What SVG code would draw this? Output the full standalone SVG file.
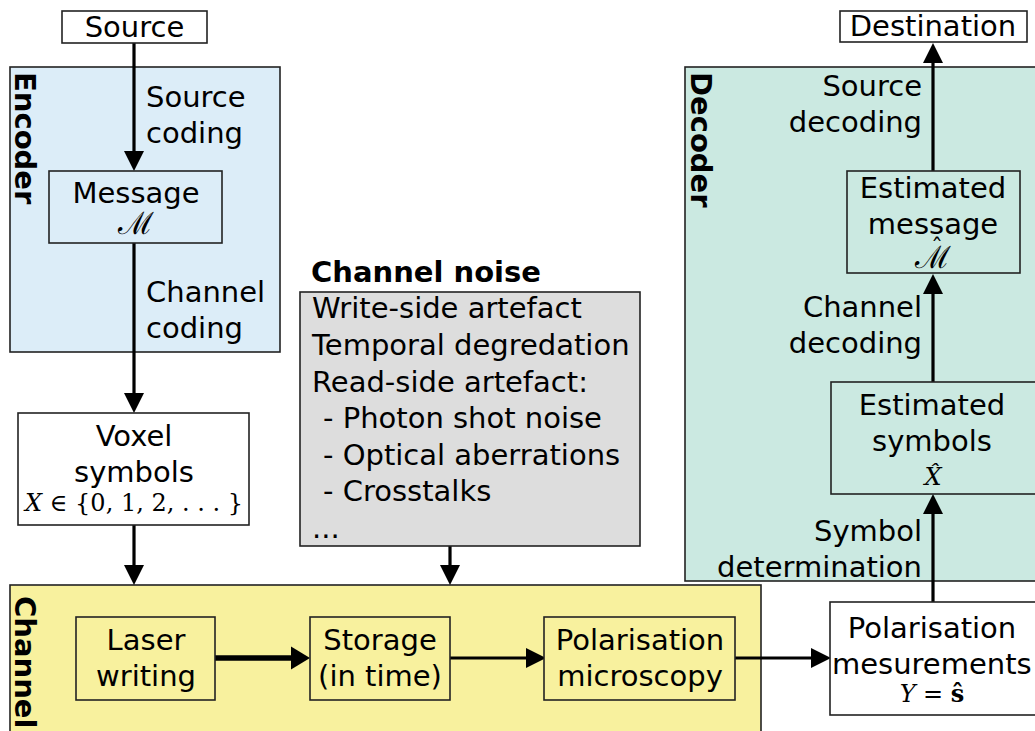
<svg xmlns="http://www.w3.org/2000/svg" width="1035" height="731" viewBox="0 0 1035 731">
  <defs>
    <marker id="head" viewBox="0 0 20 20" markerWidth="20" markerHeight="21" refX="0" refY="10" orient="auto" markerUnits="userSpaceOnUse">
      <path d="M0,0 L20,10 L0,20 z" fill="#000"/>
    </marker>
    <marker id="head-lg" viewBox="0 0 20 24" markerWidth="19" markerHeight="24" refX="0" refY="12" orient="auto" markerUnits="userSpaceOnUse">
      <path d="M0,0 L20,12 L0,24 z" fill="#000"/>
    </marker>
    <style>
      .box { stroke: #222; stroke-width: 1.6; }
      .white { fill: #ffffff; }
      .blue { fill: #dcedf8; }
      .mint { fill: #cbe9e1; }
      .yellow { fill: #f8f19e; }
      .grey { fill: #dddddd; }
      .t { font-family: "DejaVu Sans", Verdana, sans-serif; font-size: 29px; fill: #000; }
      .b { font-family: "DejaVu Sans", Verdana, sans-serif; font-size: 29px; font-weight: bold; fill: #000; }
      .m { font-family: "DejaVu Serif", "Liberation Serif", serif; font-size: 24px; }
      .cal { font-family: "DejaVu Serif", "Liberation Serif", serif; font-size: 31px; }
      .hat { font-family: "DejaVu Serif", "Liberation Serif", serif; font-size: 24px; }
      .mi { font-style: italic; }
      .c { text-anchor: middle; }
      .r { text-anchor: end; }
      .wire { stroke: #000; stroke-width: 3.2; fill: none; }
      .wire-thick { stroke: #000; stroke-width: 5.5; fill: none; }
    </style>
  </defs>

  <!-- Container regions -->
  <g id="encoder">
    <rect class="box blue" x="10" y="67" width="270" height="285"/>
    <text class="b" transform="translate(15,72) rotate(90)">Encoder</text>
  </g>
  <g id="decoder">
    <rect class="box mint" x="685" y="67" width="360" height="514"/>
    <text class="b" transform="translate(691,72) rotate(90)">Decoder</text>
  </g>
  <g id="channel">
    <rect class="box yellow" x="10" y="585" width="751" height="160"/>
    <text class="b" transform="translate(15,596) rotate(90)">Channel</text>
  </g>

  <!-- Connectors -->
  <g id="connectors">
    <line class="wire" x1="134" y1="43" x2="134" y2="151" marker-end="url(#head)"/>
    <line class="wire" x1="134" y1="243" x2="134" y2="393" marker-end="url(#head)"/>
    <line class="wire" x1="134" y1="525" x2="134" y2="565" marker-end="url(#head)"/>
    <line class="wire" x1="450" y1="546" x2="450" y2="565" marker-end="url(#head)"/>
    <line class="wire-thick" x1="215" y1="658" x2="291" y2="658" marker-end="url(#head-lg)"/>
    <line class="wire" x1="450" y1="658" x2="526" y2="658" marker-end="url(#head)"/>
    <line class="wire" x1="735" y1="658" x2="811" y2="658" marker-end="url(#head)"/>
    <line class="wire" x1="933" y1="602" x2="933" y2="514" marker-end="url(#head)"/>
    <line class="wire" x1="933" y1="382" x2="933" y2="294" marker-end="url(#head)"/>
    <line class="wire" x1="933" y1="171" x2="933" y2="63" marker-end="url(#head)"/>
  </g>

  <!-- Connector labels -->
  <g id="labels">
    <text class="t" x="146" y="107">Source</text>
    <text class="t" x="146" y="143">coding</text>
    <text class="t" x="146" y="302">Channel</text>
    <text class="t" x="146" y="338">coding</text>
    <text class="t r" x="922" y="96">Source</text>
    <text class="t r" x="922" y="132">decoding</text>
    <text class="t r" x="922" y="317">Channel</text>
    <text class="t r" x="922" y="353">decoding</text>
    <text class="t r" x="922" y="541">Symbol</text>
    <text class="t r" x="922" y="577">determination</text>
  </g>

  <g id="source">
    <rect class="box white" x="62" y="11" width="145" height="32"/>
    <text class="t c" x="134.5" y="37">Source</text>
  </g>

  <g id="message">
    <rect class="box blue" x="49" y="171" width="173" height="72"/>
    <text class="t c"><tspan x="136" y="203">Message</tspan><tspan class="cal" x="136" y="234">ℳ</tspan></text>
  </g>

  <g id="voxel-symbols">
    <rect class="box white" x="18" y="413" width="231" height="112"/>
    <text class="t c" x="134" y="446">Voxel</text>
    <text class="t c" x="134" y="482">symbols</text>
    <text class="m c" x="134" y="511"><tspan class="mi">X</tspan> ∈ {0, 1, 2, . . . }</text>
  </g>

  <g id="channel-noise">
    <text class="b" x="311" y="282">Channel noise</text>
    <rect class="box grey" x="300" y="292" width="340" height="254"/>
    <text class="t" x="312" y="318">Write-side artefact</text>
    <text class="t" x="312" y="355">Temporal degredation</text>
    <text class="t" x="312" y="392">Read-side artefact:</text>
    <text class="t" x="323" y="428">- Photon shot noise</text>
    <text class="t" x="323" y="465">- Optical aberrations</text>
    <text class="t" x="323" y="501">- Crosstalks</text>
    <text class="t" x="312" y="538">...</text>
  </g>

  <g id="laser-writing">
    <rect class="box yellow" x="76" y="617" width="139" height="83"/>
    <text class="t c" x="146" y="650">Laser</text>
    <text class="t c" x="146" y="686">writing</text>
  </g>

  <g id="storage">
    <rect class="box yellow" x="310" y="617" width="140" height="83"/>
    <text class="t c" x="380" y="650">Storage</text>
    <text class="t c" x="380" y="686">(in time)</text>
  </g>

  <g id="polarisation-microscopy">
    <rect class="box yellow" x="544" y="617" width="191" height="83"/>
    <text class="t c" x="640" y="650">Polarisation</text>
    <text class="t c" x="640" y="686">microscopy</text>
  </g>

  <g id="polarisation-measurements">
    <rect class="box white" x="830" y="602" width="215" height="113"/>
    <text class="t c" x="932" y="638">Polarisation</text>
    <text class="t"><tspan x="832" y="674">mesurements</tspan><tspan class="m" x="932" y="702" text-anchor="middle"><tspan class="mi">Y</tspan> = <tspan font-weight="bold">ŝ</tspan></tspan></text>
  </g>

  <g id="estimated-symbols">
    <rect class="box mint" x="831" y="382" width="214" height="112"/>
    <text class="t c" x="932" y="415">Estimated</text>
    <text class="t c" x="932" y="451">symbols</text>
    <text class="m mi c" x="933" y="485">X̂</text>
  </g>

  <g id="estimated-message">
    <rect class="box mint" x="847" y="171" width="173" height="102"/>
    <text class="t c" x="933" y="198">Estimated</text>
    <text class="c"><tspan class="t" x="933" y="234">message</tspan><tspan class="hat" x="937" y="256">ˆ</tspan><tspan class="cal" x="933" y="268">ℳ</tspan></text>
  </g>

  <g id="destination">
    <rect class="box white" x="840" y="11" width="187" height="31"/>
    <text class="t c" x="933" y="36">Destination</text>
  </g>
</svg>
